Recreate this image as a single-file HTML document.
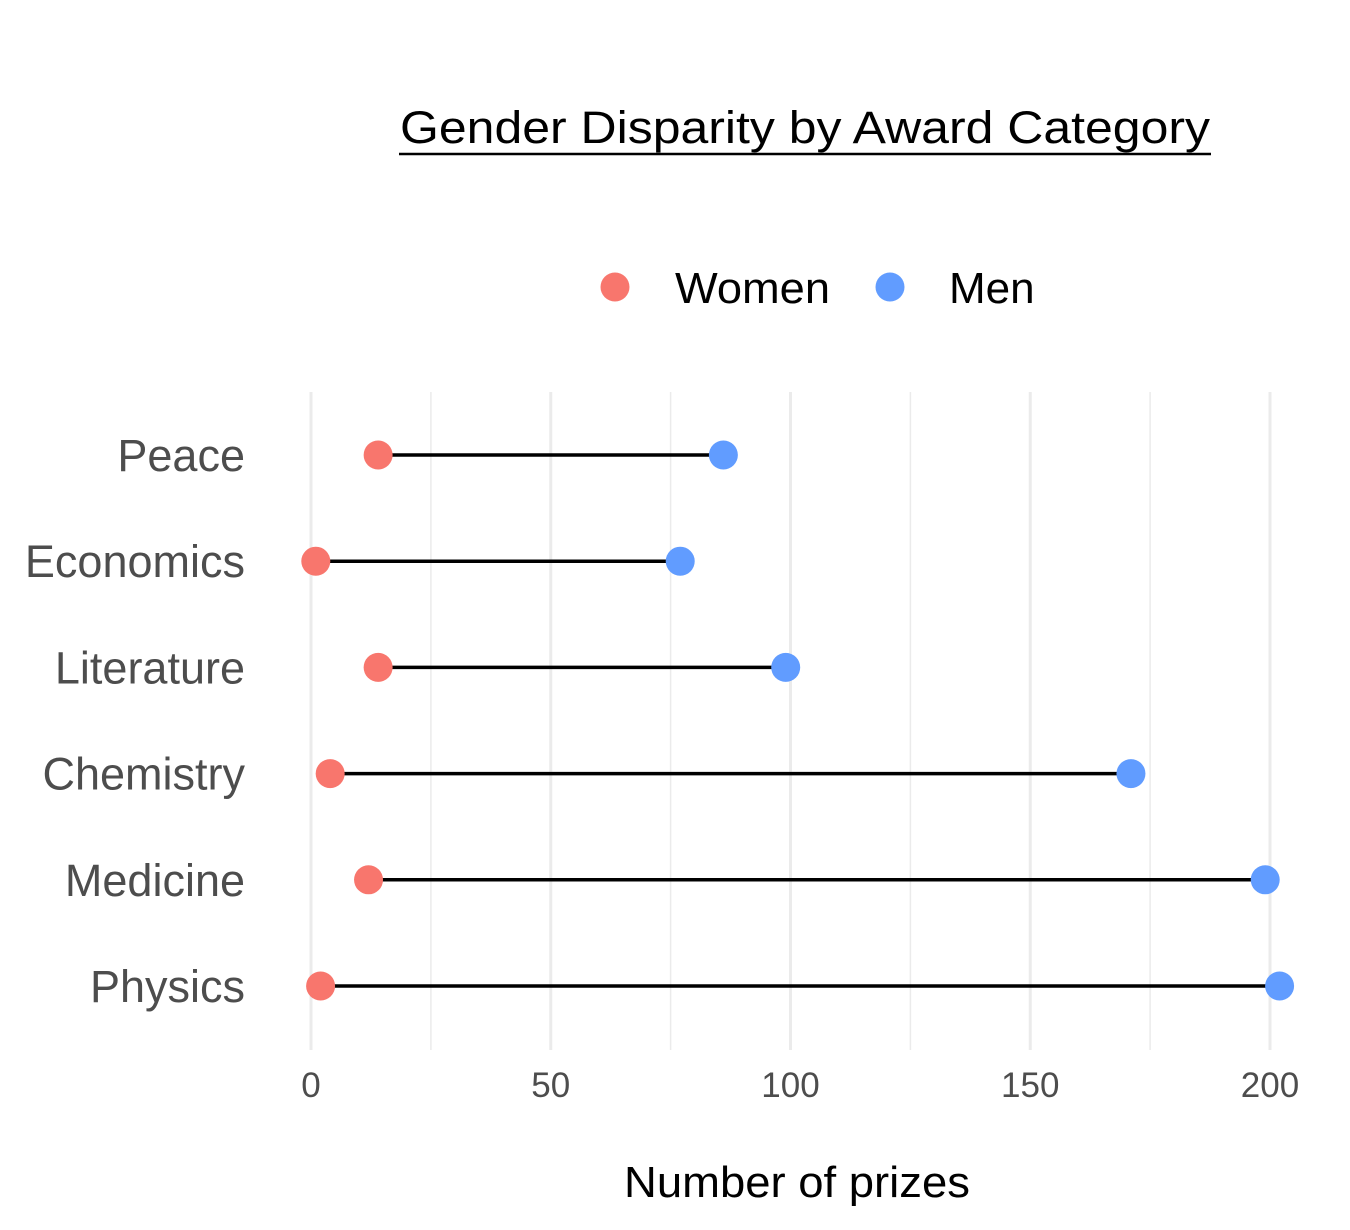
<!DOCTYPE html>
<html><head><meta charset="utf-8"><style>
body{margin:0;background:#fff}
svg{display:block;font-family:"Liberation Sans",Arial,sans-serif}
</style></head><body>
<svg id="chart" width="1350" height="1230">
<text x="400" y="143" font-size="45" fill="#000" textLength="810" lengthAdjust="spacingAndGlyphs">Gender Disparity by Award Category</text>
<line x1="399" x2="1211" y1="154" y2="154" stroke="#000" stroke-width="2.5"/>
<g>
<g><circle cx="615" cy="287" r="14.5" fill="#F8766D"/><text x="675" y="303" font-size="44" textLength="155" lengthAdjust="spacingAndGlyphs">Women</text></g>
<g><circle cx="890" cy="287" r="14.5" fill="#619CFF"/><text x="949" y="303" font-size="44">Men</text></g>
</g>
<g id="grid"></g><g id="yl"></g><g id="xl"></g><g id="marks"></g>
<text x="624" y="1197" font-size="44" fill="#000" textLength="346" lengthAdjust="spacingAndGlyphs">Number of prizes</text>
</svg>
<script>
const categories=["Peace","Economics","Literature","Chemistry","Medicine","Physics"];
const women=[14,1,14,4,12,2];
const men=[86,77,99,171,199,202];
const xTicks=[0,50,100,150,200];
const minorTicks=[25,75,125,175];
const NS="http://www.w3.org/2000/svg";
const x=v=>311+v*(1270-311)/200;
const y=i=>455+i*106.2;
function mk(t,a,p){const e=document.createElementNS(NS,t);for(const k in a)e.setAttribute(k,a[k]);p.appendChild(e);return e;}
const grid=document.getElementById('grid'),yl=document.getElementById('yl'),xl=document.getElementById('xl'),marks=document.getElementById('marks');
minorTicks.forEach(v=>{const l=mk('line',{x1:x(v),x2:x(v),y1:392,y2:1050,stroke:'#ebebeb','stroke-width':1.5},grid);

});
xTicks.forEach(v=>{const l=mk('line',{x1:x(v),x2:x(v),y1:392,y2:1050,stroke:'#ebebeb','stroke-width':3},grid);


const t=mk('text',{x:x(v),y:1097,'text-anchor':'middle','font-size':35,fill:'#4d4d4d'},xl);t.textContent=v;

});
categories.forEach((c,i)=>{
const t=mk('text',{x:245,y:y(i)+16,'text-anchor':'end','font-size':45,fill:'#4d4d4d'},yl);t.textContent=c;


const l=mk('line',{x1:x(women[i]),x2:x(men[i]),y1:y(i),y2:y(i),stroke:'#000','stroke-width':3.5},marks);


const w=mk('circle',{cx:x(women[i]),cy:y(i),r:14.5,fill:'#F8766D'},marks);


const m=mk('circle',{cx:x(men[i]),cy:y(i),r:14.5,fill:'#619CFF'},marks);


});
</script>
</body></html>
